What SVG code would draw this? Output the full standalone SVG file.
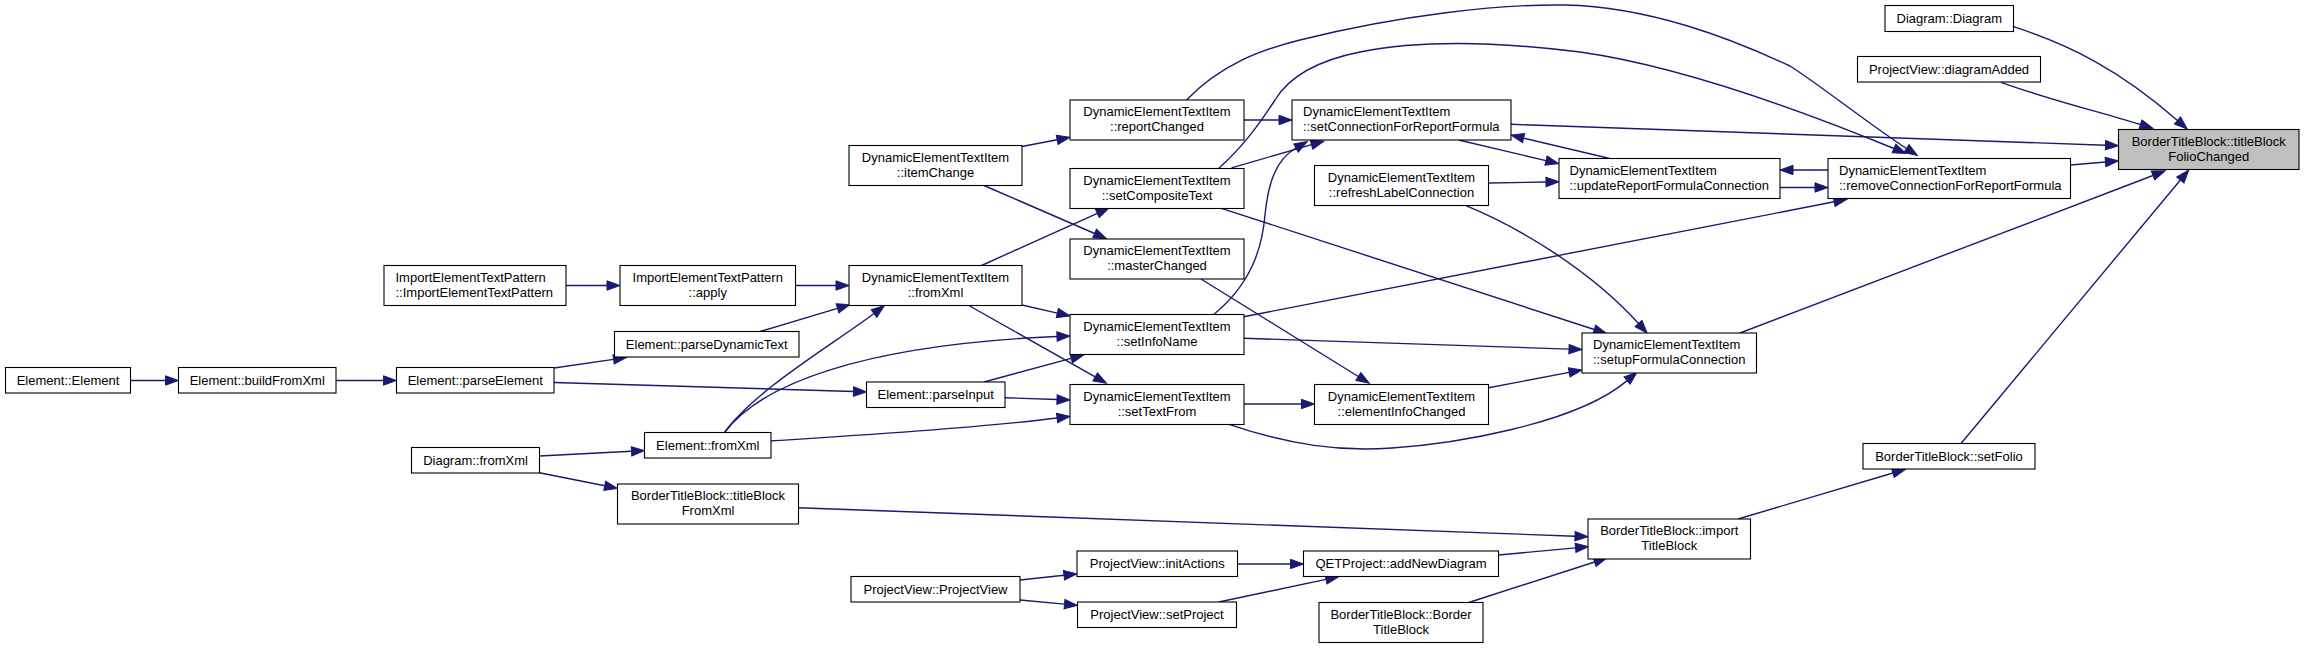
<svg xmlns="http://www.w3.org/2000/svg" width="2304" height="649" viewBox="0 0 2304 649">
<style>
.n rect{fill:#fff;stroke:#000;stroke-width:1.1}
.n.hl rect{fill:#bfbfbf}
.n text{font-family:"Liberation Sans",Arial,sans-serif;font-size:13px;fill:#000}
.c{text-anchor:middle}
.e path{fill:none;stroke:#191970;stroke-width:1.4;marker-end:url(#ah)}
</style>
<defs>
<marker id="ah" markerUnits="userSpaceOnUse" markerWidth="13" markerHeight="10" refX="0" refY="5" orient="auto" viewBox="0 0 13 10" overflow="visible">
<path d="M0,0.3 L13,5 L0,9.7 z" fill="#191970" stroke="#191970" stroke-width="1"/>
</marker>
</defs>
<rect width="2304" height="649" fill="#fff"/>
<g class="e" id="edges">
<path d="M130.5,380.5 L165.5,380.5"/>
<path d="M336,380.5 L383.5,380.5"/>
<path d="M554,368 L613.6,359.4"/>
<path d="M554,382.5 L853.5,391.5"/>
<path d="M760,331.5 L837.5,308.3"/>
<path d="M566,285.5 L607,285.5"/>
<path d="M795.5,285.5 L836,285.5"/>
<path d="M724.5,432.5 C755,390 832,345 874,313.5"/>
<path d="M724.5,432.5 C760,385 860,345 1057,336.5"/>
<path d="M771,441 C850,436 980,428 1057.1,418"/>
<path d="M539.3,456 L631.5,451.3"/>
<path d="M539.3,472.7 L604.7,485.8"/>
<path d="M798.5,507.7 L1575,536.2"/>
<path d="M984,382 L1071.2,358.4"/>
<path d="M1005,397.7 L1057,399.5"/>
<path d="M981.5,265.5 L1097.3,213.3"/>
<path d="M1022,305 L1057.3,313.1"/>
<path d="M968.8,305.5 L1095.2,376.9"/>
<path d="M1022,146.5 L1057.2,139.8"/>
<path d="M984,185.5 L1094.6,233.5"/>
<path d="M1244,120 L1279,120"/>
<path d="M1186.6,100 C1220,65 1260,50 1300,40 C1400,15 1500,4 1565,5 C1650,7 1730,38 1790,66 C1820,85 1870,125 1906.5,148.5"/>
<path d="M1218.8,168.3 C1245,145 1262,120 1275,100 C1290,75 1320,60 1360,52 C1420,40 1500,42 1580,52 C1680,66 1800,110 1894,148.5"/>
<path d="M1231.5,167.8 L1311.5,144.7"/>
<path d="M1213.7,314.5 C1250,285 1262,250 1265,215 C1268,185 1275,160 1296,148"/>
<path d="M1458.6,140 L1546,160.6"/>
<path d="M1609.8,158.5 L1523.6,138.1"/>
<path d="M1488.7,183 L1546,182"/>
<path d="M1828,170 L1793,170"/>
<path d="M1780,187.5 L1815,187.5"/>
<path d="M2070.5,165 L2105.5,162"/>
<path d="M1511,124.3 L2105.5,145.2"/>
<path d="M2013.6,26.7 C2070,45 2120,70 2177.5,120.5"/>
<path d="M2001,82.3 C2050,100 2100,112 2140.5,124.5"/>
<path d="M1740,333 L2153,175.5"/>
<path d="M1961,443.5 L2180.4,180"/>
<path d="M1738,519 L1892.9,473"/>
<path d="M1498.5,555 L1575.5,547.9"/>
<path d="M1468.8,602.5 L1594.6,562"/>
<path d="M1237.5,564 L1290.5,564"/>
<path d="M1218.8,602 L1326,579.4"/>
<path d="M1020,580 L1064,575.2"/>
<path d="M1020,600 L1064.5,604.1"/>
<path d="M1244,404 L1301.5,404"/>
<path d="M1488.7,387.7 L1569.2,372.4"/>
<path d="M1243.8,338.3 L1569,349.1"/>
<path d="M1229,424.3 C1290,445 1340,452 1392,448 C1450,444 1575,425 1627.1,380.6"/>
<path d="M1221.3,208.3 L1594.3,329.5"/>
<path d="M1201,279 L1358.3,376.5"/>
<path d="M1466,205.7 C1520,228 1590,270 1638.5,323.5"/>
<path d="M1243.8,316.7 L1834.2,201.8"/>
</g>
<g class="n" id="n1"><rect x="5.5" y="367.5" width="125" height="25.5"/><text class="c" x="68" y="384.5">Element::Element</text></g>
<g class="n" id="n2"><rect x="178.5" y="367.5" width="157.5" height="25.5"/><text class="c" x="257.25" y="384.5">Element::buildFromXml</text></g>
<g class="n" id="n3"><rect x="396.5" y="367.5" width="157.5" height="25.5"/><text class="c" x="475.25" y="384.5">Element::parseElement</text></g>
<g class="n" id="n4"><rect x="614.5" y="331.5" width="184.5" height="25.5"/><text class="c" x="706.75" y="348.5">Element::parseDynamicText</text></g>
<g class="n" id="n5"><rect x="644.5" y="432.5" width="126.5" height="25.5"/><text class="c" x="707.75" y="449.5">Element::fromXml</text></g>
<g class="n" id="n6"><rect x="411.5" y="447.5" width="128" height="25.5"/><text class="c" x="475.5" y="464.5">Diagram::fromXml</text></g>
<g class="n" id="n7"><rect x="617.5" y="484" width="181" height="40"/><text class="c" x="708" y="500">BorderTitleBlock::titleBlock</text><text class="c" x="708" y="515">FromXml</text></g>
<g class="n" id="n8"><rect x="384" y="265.5" width="182" height="40"/><text x="395.5" y="281.5">ImportElementTextPattern</text><text x="395.5" y="296.5">::ImportElementTextPattern</text></g>
<g class="n" id="n9"><rect x="620" y="265.5" width="175.5" height="40"/><text class="c" x="707.75" y="281.5">ImportElementTextPattern</text><text class="c" x="707.75" y="296.5">::apply</text></g>
<g class="n" id="n10"><rect x="849" y="265.5" width="173" height="40"/><text class="c" x="935.5" y="281.5">DynamicElementTextItem</text><text class="c" x="935.5" y="296.5">::fromXml</text></g>
<g class="n" id="n11"><rect x="849" y="145.5" width="173" height="40"/><text class="c" x="935.5" y="161.5">DynamicElementTextItem</text><text class="c" x="935.5" y="176.5">::itemChange</text></g>
<g class="n" id="n12"><rect x="1070" y="100" width="174" height="40"/><text class="c" x="1157" y="116">DynamicElementTextItem</text><text class="c" x="1157" y="131">::reportChanged</text></g>
<g class="n" id="n13"><rect x="1070" y="168.5" width="174" height="40"/><text class="c" x="1157" y="184.5">DynamicElementTextItem</text><text class="c" x="1157" y="199.5">::setCompositeText</text></g>
<g class="n" id="n14"><rect x="1070" y="239" width="174" height="40"/><text class="c" x="1157" y="255">DynamicElementTextItem</text><text class="c" x="1157" y="270">::masterChanged</text></g>
<g class="n" id="n15"><rect x="1070" y="314.5" width="174" height="40"/><text class="c" x="1157" y="330.5">DynamicElementTextItem</text><text class="c" x="1157" y="345.5">::setInfoName</text></g>
<g class="n" id="n16"><rect x="866.5" y="382" width="138.5" height="25.5"/><text class="c" x="935.75" y="399">Element::parseInput</text></g>
<g class="n" id="n17"><rect x="1070" y="384.5" width="174" height="40"/><text class="c" x="1157" y="400.5">DynamicElementTextItem</text><text class="c" x="1157" y="415.5">::setTextFrom</text></g>
<g class="n" id="n18"><rect x="1292" y="100" width="219" height="40"/><text x="1303" y="116">DynamicElementTextItem</text><text x="1303" y="131">::setConnectionForReportFormula</text></g>
<g class="n" id="n19"><rect x="1314.5" y="165.5" width="174" height="40"/><text class="c" x="1401.5" y="181.5">DynamicElementTextItem</text><text class="c" x="1401.5" y="196.5">::refreshLabelConnection</text></g>
<g class="n" id="n20"><rect x="1314.5" y="384.5" width="174" height="40"/><text class="c" x="1401.5" y="400.5">DynamicElementTextItem</text><text class="c" x="1401.5" y="415.5">::elementInfoChanged</text></g>
<g class="n" id="n21"><rect x="1559" y="158.5" width="221" height="40"/><text x="1569.5" y="174.5">DynamicElementTextItem</text><text x="1569.5" y="189.5">::updateReportFormulaConnection</text></g>
<g class="n" id="n22"><rect x="1828" y="158.5" width="242.5" height="40"/><text x="1839" y="174.5">DynamicElementTextItem</text><text x="1839" y="189.5">::removeConnectionForReportFormula</text></g>
<g class="n" id="n23"><rect x="1582" y="333" width="174.5" height="40"/><text x="1593" y="349">DynamicElementTextItem</text><text x="1593" y="364">::setupFormulaConnection</text></g>
<g class="n hl" id="n24"><rect x="2118.5" y="129.5" width="180.5" height="40"/><text class="c" x="2208.75" y="145.5">BorderTitleBlock::titleBlock</text><text class="c" x="2208.75" y="160.5">FolioChanged</text></g>
<g class="n" id="n25"><rect x="1885" y="5.5" width="128.5" height="26"/><text class="c" x="1949.25" y="22.5">Diagram::Diagram</text></g>
<g class="n" id="n26"><rect x="1857.5" y="56.5" width="183" height="25.5"/><text class="c" x="1949" y="73.5">ProjectView::diagramAdded</text></g>
<g class="n" id="n27"><rect x="1863" y="443.5" width="172" height="25.5"/><text class="c" x="1949" y="460.5">BorderTitleBlock::setFolio</text></g>
<g class="n" id="n28"><rect x="1588" y="519" width="162.5" height="40"/><text class="c" x="1669.25" y="535">BorderTitleBlock::import</text><text class="c" x="1669.25" y="550">TitleBlock</text></g>
<g class="n" id="n29"><rect x="1303.5" y="551" width="195" height="25.5"/><text class="c" x="1401" y="568">QETProject::addNewDiagram</text></g>
<g class="n" id="n30"><rect x="1077" y="551" width="160.5" height="25.5"/><text class="c" x="1157.25" y="568">ProjectView::initActions</text></g>
<g class="n" id="n31"><rect x="1077.5" y="602" width="159" height="25.5"/><text class="c" x="1157" y="619">ProjectView::setProject</text></g>
<g class="n" id="n32"><rect x="851" y="576.5" width="169" height="25.5"/><text class="c" x="935.5" y="593.5">ProjectView::ProjectView</text></g>
<g class="n" id="n33"><rect x="1319" y="602.5" width="164" height="40"/><text class="c" x="1401" y="618.5">BorderTitleBlock::Border</text><text class="c" x="1401" y="633.5">TitleBlock</text></g>
</svg>
